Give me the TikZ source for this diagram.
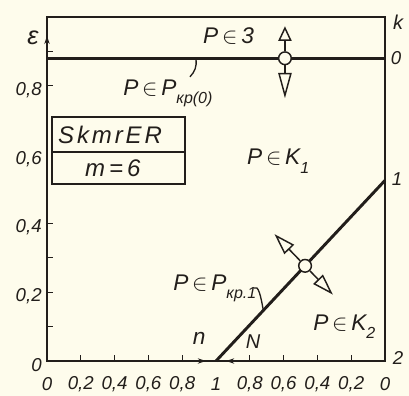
\documentclass[tikz,border=0pt]{standalone}
\usepackage{fontspec}
\setmainfont{Liberation Sans}
\usepackage{tikz}
\usetikzlibrary{arrows.meta}
\definecolor{paper}{HTML}{FEFCEC}
\definecolor{ink}{HTML}{221E1B}
\newcommand{\lowidx}[1]{\raisebox{-6.5pt}{\fontsize{12}{12}\selectfont #1}}
\tikzset{
  >={Stealth[length=6pt,width=4pt]},
  axis line/.style={
    draw=ink,
    line width=1.4pt
  },
  tick line/.style={
    draw=ink,
    line width=1pt
  },
  zone border/.style={
    draw=ink,
    line width=2.2pt
  },
  box line/.style={
    draw=ink,
    line width=1.5pt
  },
  tick label/.style={
    font=\itshape\fontsize{14}{16}\selectfont,
    text=ink,
    inner sep=1pt
  },
  zone label/.style={
    font=\itshape\fontsize{17}{19}\selectfont,
    text=ink,
    inner sep=0pt,
    anchor=base west
  },
  state point/.style={
    circle,
    draw=ink,
    fill=paper,
    line width=1.1pt,
    minimum size=9.5pt,
    inner sep=0pt
  },
  shift arrow/.style={
    draw=ink,
    line width=1.1pt,
    -{Triangle[open,length=#1,width=10pt]}
  },
  shift arrow/.default=12pt,
  leader/.style={
    draw=ink,
    line width=1pt
  }
}

\begin{document}
\begin{tikzpicture}[x=126.75pt,y=258pt]
  \useasboundingbox[fill=paper] (-0.278,-0.1017) rectangle (2.142,1.0494);

  % axes and frame
  \coordinate (O) at (0,0);
  \coordinate (E) at (0,1);
  \coordinate (K) at (2,1);
  \coordinate (B) at (2,0);
  \draw[axis line] (O) -- (E) -- (K) -- (B) -- cycle;
  \draw[axis line,->] (0,0.85) -- (0,0.945);
  \draw[axis line,->] (0.8,0) -- (0.94,0);
  \draw[axis line,->] (1.2,0) -- (1.06,0);

  \foreach \v in {0.1,0.2,0.3,0.4,0.8,0.9}
    \draw[tick line] (0,\v) -- (0.035,\v);
  \foreach \u in {0.2,0.4,0.6,0.8,1.2,1.4,1.6,1.8}
    \draw[tick line] (\u,0) -- (\u,0.018);

  \foreach \t [count=\i from 0] in {0,{0,2},{0,4},{0,6},{0,8}}
    \node[tick label,anchor=east] (yl\i) at (-0.022,0.2*\i-0.012) {\t};
  \foreach \t [count=\i from 0] in {0,{0,2},{0,4},{0,6},{0,8},1,{0,8},{0,6},{0,4},{0,2},0}
    \node[tick label] (xl\i) at (0.2*\i,-0.068) {\t};

  \node[tick label,font=\itshape\fontsize{19}{21}\selectfont] (eps) at (-0.083,0.939) {ε};
  \node[tick label,font=\itshape\fontsize{15}{17}\selectfont] (kk) at (2.077,0.985) {k};
  \node[tick label] (k0) at (2.065,0.881) {0};
  \node[tick label] (k1) at (2.071,0.529) {1};
  \node[tick label] (k2) at (2.077,0.009) {2};
  \node[tick label,anchor=base,font=\itshape\fontsize{17}{19}\selectfont] (nn) at (0.90,0.047) {n};
  \node[tick label,anchor=base,font=\itshape\fontsize{15}{17}\selectfont] (NN) at (1.219,0.036) {N};

  % zone borders
  \coordinate (L0) at (0,0.88);
  \coordinate (R0) at (2,0.88);
  \coordinate (N1) at (1,0);
  \coordinate (R1) at (2,0.525);
  \draw[zone border] (L0) -- (R0);
  \draw[zone border] (N1) -- (R1);

  % material box
  \draw[box line] (0.03,0.515) rectangle (0.817,0.709);
  \draw[box line] (0.03,0.608) -- (0.817,0.608);
  \node[font=\itshape\fontsize{18}{20}\selectfont\addfontfeature{LetterSpace=12},text=ink] (mat) at (0.373,0.657) {SkmrER};
  \node[font=\itshape\fontsize{18}{20}\selectfont,text=ink] (mm) at (0.39,0.561) {m\,=\,6};

  % zones
  \node[zone label] (z3) at (0.923,0.924) {P\,$\in$\,3};
  \node[zone label] (zkr0) at (0.45,0.773) {P\,$\in$\,P\lowidx{кр(0)}};
  \node[zone label] (zk1) at (1.183,0.570) {P\,$\in$\,K\lowidx{1}};
  \node[zone label] (zkr1) at (0.746,0.206) {P\,$\in$\,P\lowidx{кр.1}};
  \node[zone label] (zk2) at (1.574,0.090) {P\,$\in$\,K\lowidx{2}};

  \coordinate (lk0a) at (0.846,0.826);
  \coordinate (lk0b) at (0.882,0.878);
  \draw[leader] (lk0a) to[bend right=25] (lk0b);
  \coordinate (lk1a) at (1.225,0.212);
  \coordinate (lk1b) at (1.28,0.147);
  \draw[leader] (lk1a) .. controls (1.25,0.222) and (1.265,0.19) .. (lk1b);

  % state points
  \node[state point] (P0) at (1.408,0.88) {};
  \node[state point] (P1) at (1.527,0.2767) {};
  \draw[shift arrow=11pt] (P0) -- ([yshift=24pt]P0.center);
  \draw[shift arrow=19pt] (P0) -- ([yshift=-30pt]P0.center);
  \draw[shift arrow=16pt] (P1) -- ([shift={(134:33pt)}]P1.center);
  \draw[shift arrow=16pt] (P1) -- ([shift={(-46:30pt)}]P1.center);
\end{tikzpicture}
\end{document}
